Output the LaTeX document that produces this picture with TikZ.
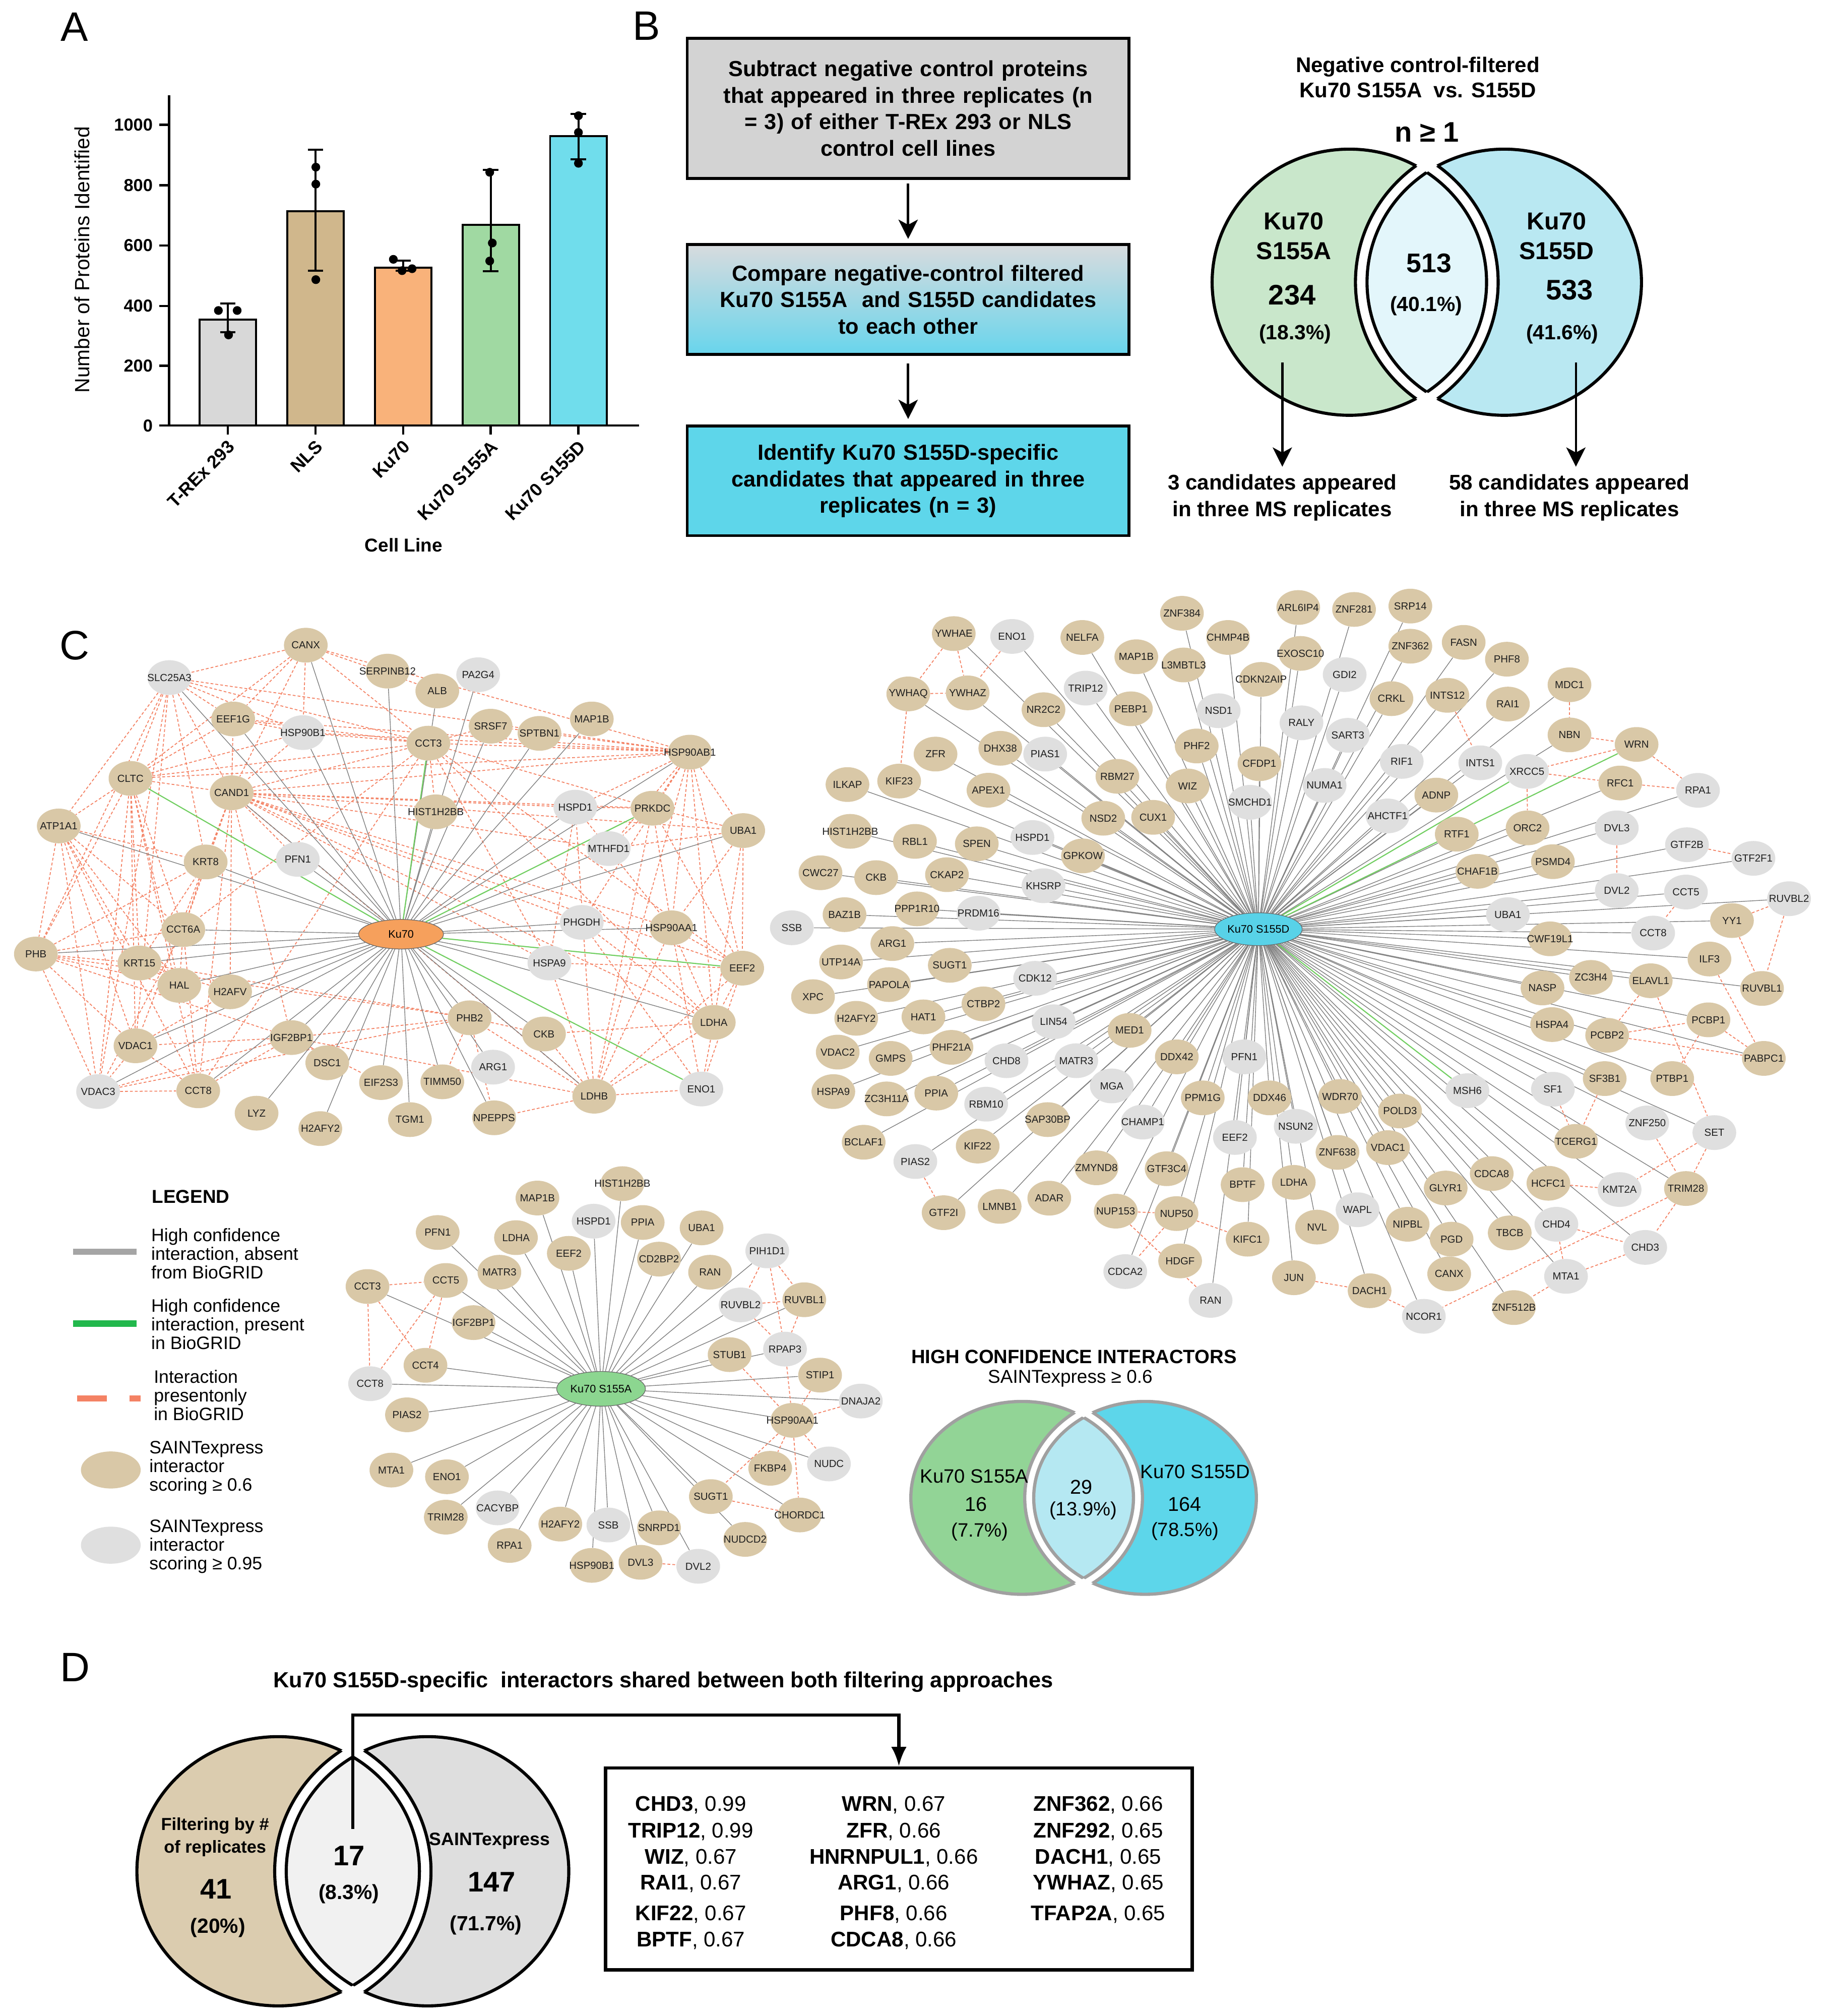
\documentclass[tikz,border=0pt]{standalone}
\usepackage{fontspec}
\setmainfont{Liberation Sans}
\usetikzlibrary{shapes.geometric,arrows.meta}
\pgfdeclarelayer{bgw}
\pgfdeclarelayer{edges}
\pgfsetlayers{bgw,edges,main}
\definecolor{tanN}{RGB}{217,200,167}
\definecolor{grayN}{RGB}{223,223,223}
\definecolor{coral}{RGB}{244,130,100}
\definecolor{edgeG}{RGB}{128,128,128}
\definecolor{greenE}{RGB}{112,206,96}
\definecolor{barGray}{RGB}{216,216,216}
\definecolor{barTan}{RGB}{208,183,140}
\definecolor{barOrange}{RGB}{249,178,122}
\definecolor{barGreen}{RGB}{160,217,162}
\definecolor{barCyan}{RGB}{112,221,236}
\definecolor{hubOrange}{RGB}{246,160,92}
\definecolor{hubCyan}{RGB}{88,210,232}
\definecolor{hubGreen}{RGB}{140,214,144}
\definecolor{boxGray}{RGB}{211,211,211}
\definecolor{boxTop}{RGB}{216,219,222}
\definecolor{boxBot}{RGB}{104,213,236}
\definecolor{boxCyan}{RGB}{94,214,234}
\definecolor{legGray}{RGB}{165,165,165}
\definecolor{legGreen}{RGB}{34,184,76}
\newcommand\fz[2]{\fontsize{#1}{#2}\selectfont}
\newcommand\knA[3]{\node[#1,label={center:#2}] (a#2) at (#3) {};}
\newcommand\knD[3]{\node[#1,label={center:#2}] (d#2) at (#3) {};}
\newcommand\knS[3]{\node[#1,label={center:#2}] (s#2) at (#3) {};}
\def\vgap{9}
\def\vlw{2.4pt}
\newcommand\VennPic[5]{%
\pgfmathsetmacro\vxl{#1-#3}%
\pgfmathsetmacro\vxr{#1+#3}%
\pgfmathsetmacro\vap{#4+\vgap}%
\pgfmathsetmacro\vbp{#5+\vgap}%
\fill[vL] (\vxl,#2) ellipse[x radius=#4pt,y radius=#5pt];%
\draw[vLine,line width=\vlw] (\vxl,#2) ellipse[x radius=#4pt,y radius=#5pt];%
\fill[vR] (\vxr,#2) ellipse[x radius=#4pt,y radius=#5pt];%
\draw[vLine,line width=\vlw] (\vxr,#2) ellipse[x radius=#4pt,y radius=#5pt];%
\begin{scope}\clip (\vxl,#2) ellipse[x radius=\vap pt,y radius=\vbp pt];%
\fill[white] (\vxr,#2) ellipse[x radius=\vap pt,y radius=\vbp pt];\end{scope}%
\begin{scope}\clip (\vxl,#2) ellipse[x radius=#4pt,y radius=#5pt];%
\draw[vLine,line width=\vlw] (\vxr,#2) ellipse[x radius=\vap pt,y radius=\vbp pt];\end{scope}%
\begin{scope}\clip (\vxr,#2) ellipse[x radius=#4pt,y radius=#5pt];%
\draw[vLine,line width=\vlw] (\vxl,#2) ellipse[x radius=\vap pt,y radius=\vbp pt];\end{scope}%
\begin{scope}\clip (\vxl,#2) ellipse[x radius=#4pt,y radius=#5pt];%
\fill[vM] (\vxr,#2) ellipse[x radius=#4pt,y radius=#5pt];%
\draw[vLine,line width=\vlw] (\vxr,#2) ellipse[x radius=#4pt,y radius=#5pt];\end{scope}%
\begin{scope}\clip (\vxr,#2) ellipse[x radius=#4pt,y radius=#5pt];%
\draw[vLine,line width=\vlw] (\vxl,#2) ellipse[x radius=#4pt,y radius=#5pt];\end{scope}%
}
\tikzset{
 tn/.style={ellipse, fill=tanN, minimum width=34pt, minimum height=27pt, inner sep=0pt},
 gn/.style={ellipse, fill=grayN, minimum width=34pt, minimum height=27pt, inner sep=0pt},
 every label/.style={font=\fz{8}{9}, inner sep=0pt, text=black!88},
 hc/.style={draw=edgeG, line width=0.55pt},
 hcg/.style={draw=greenE, line width=0.85pt},
 bgd/.style={draw=coral, line width=0.7pt, dash pattern=on 2.2pt off 1.6pt},
 hub/.style={ellipse, draw=black!60, line width=0.5pt, inner sep=0pt, font=\fz{8.5}{10}},
 fbox/.style={draw, line width=2.2pt, minimum width=343.8pt, text width=330pt, align=center, font=\bfseries\fz{17}{20.6}, inner sep=0pt},
 plabel/.style={font=\fz{32}{36}, inner sep=0pt},
 farrow/.style={line width=2pt, -{Stealth[length=15pt,width=15pt,inset=4pt]}},
 txt/.style={inner sep=0pt, align=center},
 legt/.style={inner sep=0pt, align=left, anchor=west, font=\fz{14}{14.5}},
 dit/.style={inner sep=0pt, font=\fz{16.5}{18}},
}
\begin{document}
\begin{tikzpicture}[x=1pt,y=-1pt]
\begin{pgfonlayer}{bgw}\fill[white] (0,0) rectangle (1421,1568);\end{pgfonlayer}
\useasboundingbox (0,0) rectangle (1421,1568);
% ---------------- Panel letters
\node[plabel] (lA) at (58,21) {A};
\node[plabel] (lB) at (503,20) {B};
\node[plabel] (lC) at (58,502) {C};
\node[plabel] (lD) at (58.5,1297) {D};
% ---------------- Panel A bar chart
\foreach \cx/\tp/\col in {177.2/248.6/barGray,245.4/164.4/barTan,313.6/208.2/barOrange,381.8/175/barGreen,450/106/barCyan}
  \draw[fill=\col, line width=1.5pt] (\cx-22,331) rectangle (\cx+22,\tp);
\foreach \cx/\lo/\hi in {177.2/258.5/236.2,245.4/210.5/116.4,313.6/210.5/202.6,381.8/211/132,450/124/88.7}{
  \draw[line width=1.5pt] (\cx,\lo) -- (\cx,\hi);
  \draw[line width=1.5pt] (\cx-6,\lo) -- (\cx+6,\lo);
  \draw[line width=1.5pt] (\cx-6,\hi) -- (\cx+6,\hi);}
\foreach \x/\y in {169.9/241.5,184.5/241.5,177.8/260.5,245.7/130,245.7/143.2,245.7/217.5,306/201.7,312.8/210.5,320.6/209,381/134,383/189,381/203,450/90,450/103,450/127}
  \fill (\x,\y) circle[radius=3.4pt];
\draw[line width=1.8pt] (131.6,74) -- (131.6,331);
\draw[line width=1.8pt] (123.8,331) -- (497,331);
\foreach \v/\y in {0/331,200/284.5,400/238,600/191,800/144,1000/97}{
  \draw[line width=1.8pt] (123.8,\y) -- (131.6,\y);
  \node[font=\bfseries\fz{13.5}{15}, anchor=east, inner sep=0pt] (yt\v) at (119,\y) {\v};}
\foreach \cx in {177.2,245.4,313.6,381.8,450}
  \draw[line width=1.8pt] (\cx,331) -- (\cx,338);
\foreach \cx/\t [count=\i] in {177.2/T-REx 293,245.4/NLS,313.6/Ku70,381.8/Ku70 S155A,450/Ku70 S155D}
  \node[rotate=45, anchor=east, inner sep=0pt, font=\bfseries\fz{14}{16}] (xl\i) at (\cx+3,345) {\t};
\node[font=\bfseries\fz{14.5}{16}, inner sep=0pt] (xtitle) at (314,424) {Cell Line};
\node[font=\fz{16}{18}, rotate=90, inner sep=0pt] (ytitle) at (63.7,202) {Number of Proteins Identified};
% ---------------- Panel B flow chart
\node[fbox, fill=boxGray, minimum height=109.2pt] (b1) at (706.5,84.3) {Subtract negative control proteins\\that appeared in three replicates (n\\= 3) of either T-REx 293 or NLS\\control cell lines};
\node[fbox, top color=boxTop, bottom color=boxBot, minimum height=85.5pt] (b2) at (706.5,233) {Compare negative-control filtered\\Ku70 S155A\ \ and S155D candidates\\to each other};
\node[fbox, fill=boxCyan, minimum height=85.2pt] (b3) at (706.5,374) {Identify Ku70 S155D-specific\\candidates that appeared in three\\replicates (n = 3)};
\draw[farrow, shorten <=2.7pt, shorten >=3.3pt] (b1.south) -- (b2.north);
\draw[farrow, shorten <=6pt, shorten >=4.4pt] (b2.south) -- (b3.north);
% ---------------- Panel B Venn
\colorlet{vL}{rgb,255:red,201;green,231;blue,203}
\colorlet{vR}{rgb,255:red,185;green,232;blue,242}
\colorlet{vM}{rgb,255:red,227;green,246;blue,251}
\colorlet{vLine}{black}
\def\vgap{9}\def\vlw{2.4pt}
\VennPic{1110}{219.5}{60.25}{106.75}{103.5}
\node[txt, font=\bfseries\fz{16.5}{19.8}] (vbT) at (1103,60.2) {Negative control-filtered\\Ku70 S155A\ \ vs. S155D};
\node[txt, font=\bfseries\fz{22}{24}] (vbN) at (1110,103) {n ≥ 1};
\node[txt, font=\bfseries\fz{19}{23.4}] (vbL1) at (1006.5,183.6) {Ku70\\S155A};
\node[txt, font=\bfseries\fz{22}{24}] (vbL2) at (1005.2,229.6) {234};
\node[txt, font=\bfseries\fz{16}{18}] (vbL3) at (1007.5,259.9) {(18.3\%)};
\node[txt, font=\bfseries\fz{21}{24}] (vbM1) at (1111.8,204.9) {513};
\node[txt, font=\bfseries\fz{16}{18}] (vbM2) at (1109.5,237.9) {(40.1\%)};
\node[txt, font=\bfseries\fz{19}{23.4}] (vbR1) at (1211,183.6) {Ku70\\S155D};
\node[txt, font=\bfseries\fz{22}{24}] (vbR2) at (1221,225.5) {533};
\node[txt, font=\bfseries\fz{16}{18}] (vbR3) at (1215.4,259.9) {(41.6\%)};
\node[txt, font=\bfseries\fz{16.5}{20.6}] (vbT1) at (997.6,387) {3 candidates appeared\\in three MS replicates};
\node[txt, font=\bfseries\fz{16.5}{20.6}] (vbT2) at (1221,387) {58 candidates appeared\\in three MS replicates};
\coordinate (vbA1) at (997.6,281.9);
\coordinate (vbA2) at (1226,281.9);
\draw[line width=1.8pt, -{Stealth[length=15pt,width=15pt,inset=4pt]}] (vbA1) -- (vbA1 |- 0,363);
\draw[line width=1.8pt, -{Stealth[length=15pt,width=15pt,inset=4pt]}] (vbA2) -- (vbA2 |- 0,363);
% ---------------- Ku70 network
\knA{tn}{CANX}{237.9,501.8}
\knA{gn}{SLC25A3}{131.8,527}
\knA{tn}{SERPINB12}{301.5,522}
\knA{gn}{PA2G4}{372,524.8}
\knA{tn}{ALB}{340.2,537.4}
\knA{tn}{EEF1G}{181.4,559.2}
\knA{gn}{HSP90B1}{235.6,569.8}
\knA{tn}{CCT3}{333.3,578}
\knA{tn}{SRSF7}{381.7,564.8}
\knA{tn}{SPTBN1}{419.7,570.4}
\knA{tn}{MAP1B}{460.4,559.2}
\knA{tn}{HSP90AB1}{536.7,585}
\knA{tn}{CLTC}{101.5,605.4}
\knA{tn}{CAND1}{180.2,616.6}
\knA{tn}{HIST1H2BB}{339,631.4}
\knA{gn}{HSPD1}{447.6,627.8}
\knA{tn}{PRKDC}{507.6,628.6}
\knA{tn}{UBA1}{578.2,646}
\knA{tn}{ATP1A1}{45.7,642.4}
\knA{gn}{MTHFD1}{473.5,660}
\knA{tn}{KRT8}{160,670.4}
\knA{gn}{PFN1}{231.7,668.4}
\knA{tn}{CCT6A}{142.6,723}
\knA{gn}{PHGDH}{452.6,717.4}
\knA{tn}{HSP90AA1}{522.4,721.6}
\knA{tn}{PHB}{27.9,742}
\knA{tn}{KRT15}{108.5,749}
\knA{gn}{HSPA9}{427.4,749}
\knA{tn}{EEF2}{577.4,753}
\knA{tn}{HAL}{139.5,766.4}
\knA{tn}{H2AFV}{179,771.4}
\knA{tn}{PHB2}{365.4,791.6}
\knA{tn}{LDHA}{555.3,795.2}
\knA{tn}{CKB}{423.2,804.2}
\knA{tn}{IGF2BP1}{226.7,807}
\knA{tn}{VDAC1}{105.4,813.4}
\knA{tn}{DSC1}{254.6,826.6}
\knA{gn}{ARG1}{383.6,830}
\knA{tn}{EIF2S3}{296.4,842}
\knA{tn}{TIMM50}{344.1,841.4}
\knA{gn}{VDAC3}{76.3,849}
\knA{tn}{CCT8}{154.2,848.4}
\knA{tn}{LDHB}{462.3,852.6}
\knA{gn}{ENO1}{545.6,847}
\knA{tn}{LYZ}{199.6,865.8}
\knA{tn}{H2AFY2}{249.2,877.8}
\knA{tn}{TGM1}{318.9,870.8}
\knA{tn}{NPEPPS}{384.4,869.4}
\node[hub, fill=hubOrange, minimum width=66pt, minimum height=23pt] (aKu70) at (312,726.6) {Ku70};
\begin{pgfonlayer}{edges}
\foreach \a/\b in {CANX/SLC25A3,CANX/EEF1G,CANX/CLTC,CANX/CAND1,CANX/HSP90B1,CANX/CCT3,CANX/HSP90AB1,CANX/ALB,
SLC25A3/CLTC,SLC25A3/ATP1A1,SLC25A3/CAND1,SLC25A3/EEF1G,SLC25A3/HSP90B1,SLC25A3/CCT3,SLC25A3/HSP90AB1,SLC25A3/KRT8,SLC25A3/VDAC1,SLC25A3/VDAC3,SLC25A3/PHB,
CLTC/ATP1A1,CLTC/CAND1,CLTC/CCT3,CLTC/HSP90AB1,CLTC/EEF1G,CLTC/HSP90B1,CLTC/CCT6A,CLTC/KRT15,CLTC/VDAC1,CLTC/VDAC3,CLTC/PHB,CLTC/HAL,CLTC/CCT8,
CAND1/HSPD1,CAND1/PRKDC,CAND1/MTHFD1,CAND1/HSP90AA1,CAND1/HSP90AB1,CAND1/EEF2,CAND1/LDHA,CAND1/LDHB,CAND1/UBA1,CAND1/PHGDH,CAND1/HSPA9,CAND1/CCT3,CAND1/KRT8,CAND1/CCT6A,CAND1/IGF2BP1,CAND1/H2AFV,CAND1/CCT8,CAND1/VDAC1,CAND1/EEF1G,CAND1/PFN1,
ATP1A1/PHB,ATP1A1/KRT8,ATP1A1/CCT6A,ATP1A1/KRT15,ATP1A1/VDAC1,ATP1A1/VDAC3,ATP1A1/HAL,ATP1A1/CCT8,
PHB/KRT15,PHB/VDAC1,PHB/VDAC3,PHB/CCT6A,PHB/PHB2,PHB/HAL,PHB/KRT8,PHB/IGF2BP1,
HSP90AB1/UBA1,HSP90AB1/EEF2,HSP90AB1/HSP90AA1,HSP90AB1/LDHA,HSP90AB1/PRKDC,HSP90AB1/HSPD1,HSP90AB1/MTHFD1,HSP90AB1/PHGDH,HSP90AB1/CCT3,HSP90AB1/LDHB,HSP90AB1/SRSF7,HSP90AB1/HSP90B1,HSP90AB1/EEF1G,
UBA1/EEF2,UBA1/HSP90AA1,UBA1/LDHA,UBA1/PRKDC,UBA1/MTHFD1,
EEF2/LDHA,EEF2/ENO1,EEF2/HSP90AA1,EEF2/LDHB,EEF2/PRKDC,EEF2/HSPA9,EEF2/CCT3,
LDHA/ENO1,LDHA/LDHB,LDHA/HSP90AA1,LDHA/CKB,LDHA/PHGDH,
LDHB/ENO1,LDHB/NPEPPS,LDHB/CKB,LDHB/HSPA9,LDHB/HSPD1,LDHB/HSP90AA1,LDHB/PHB2,
ENO1/HSP90AA1,ENO1/PHGDH,
IGF2BP1/VDAC1,IGF2BP1/VDAC3,IGF2BP1/CCT8,IGF2BP1/PHB2,IGF2BP1/EIF2S3,IGF2BP1/LDHB,
PHB2/VDAC3,PHB2/KRT15,PHB2/TIMM50,PHB2/NPEPPS,PHB2/CKB,
CCT6A/CCT8,CCT6A/VDAC3,CCT6A/KRT8,CCT6A/HAL,
VDAC1/VDAC3,VDAC1/H2AFV,VDAC1/CCT8,VDAC3/CCT8,KRT15/KRT8,KRT15/H2AFV,KRT15/HAL,
CCT3/SRSF7,CCT3/HSPA9,CCT3/PRKDC,CCT3/CCT6A,CCT3/CCT8,CCT3/LDHA,CCT3/HIST1H2BB,CCT3/HSP90B1,CCT3/EEF1G,
HSPD1/HSPA9,HSPD1/PRKDC,HSPD1/HSP90AA1,PRKDC/MTHFD1,PRKDC/LDHB,PRKDC/HSP90AA1,HSP90B1/EEF1G,HSP90B1/CAND1}
  \draw[bgd] (a\a) -- (a\b);
\foreach \n in {CANX,SLC25A3,SERPINB12,PA2G4,ALB,EEF1G,HSP90B1,SRSF7,SPTBN1,MAP1B,HSP90AB1,CAND1,HIST1H2BB,HSPD1,UBA1,ATP1A1,MTHFD1,KRT8,PFN1,CCT6A,PHGDH,HSP90AA1,PHB,KRT15,HSPA9,HAL,H2AFV,PHB2,LDHA,CKB,IGF2BP1,VDAC1,DSC1,ARG1,EIF2S3,TIMM50,VDAC3,CCT8,LDHB,LYZ,H2AFY2,TGM1,NPEPPS}
  \draw[hc] (aKu70) -- (a\n);
\foreach \n in {CLTC,CCT3,PRKDC,EEF2,ENO1}
  \draw[hcg] (aKu70) -- (a\n);
\end{pgfonlayer}
% ---------------- S155D network
\knD{tn}{YWHAE}{742,492.8}
\knD{gn}{ENO1}{787.4,495}
\knD{tn}{NELFA}{842,495.8}
\knD{tn}{ZNF384}{919.5,477}
\knD{tn}{ARL6IP4}{1010,472.5}
\knD{tn}{MAP1B}{884,510.8}
\knD{tn}{CHMP4B}{955.4,495.8}
\knD{tn}{L3MBTL3}{920.8,517.2}
\knD{tn}{EXOSC10}{1011.7,508.2}
\knD{tn}{CDKN2AIP}{981.1,528.4}
\knD{tn}{YWHAQ}{706.6,539.7}
\knD{tn}{YWHAZ}{752.8,538.9}
\knD{gn}{TRIP12}{844.6,535.2}
\knD{tn}{NR2C2}{811.8,552}
\knD{tn}{PEBP1}{879.8,551.3}
\knD{gn}{NSD1}{948.1,552.8}
\knD{gn}{RALY}{1012.5,562.2}
\knD{gn}{GDI2}{1046.1,524.7}
\knD{tn}{ZFR}{727.8,586.5}
\knD{tn}{DHX38}{778.2,582}
\knD{gn}{PIAS1}{813.1,586.5}
\knD{tn}{PHF2}{931,580.2}
\knD{tn}{CFDP1}{979.8,594}
\knD{tn}{ILKAP}{659.3,610.2}
\knD{tn}{KIF23}{699.5,607.5}
\knD{tn}{APEX1}{769,614.6}
\knD{tn}{RBM27}{869.3,603.8}
\knD{tn}{WIZ}{923.9,611.3}
\knD{gn}{SMCHD1}{972.5,624}
\knD{gn}{NUMA1}{1030.5,610.9}
\knD{gn}{SART3}{1048.6,571.9}
\knD{gn}{RIF1}{1090.5,592.2}
\knD{tn}{HIST1H2BB}{661.4,646.6}
\knD{tn}{RBL1}{711.8,654.4}
\knD{tn}{SPEN}{759.9,656.3}
\knD{gn}{HSPD1}{803.2,651.4}
\knD{tn}{NSD2}{858.3,636.4}
\knD{tn}{CUX1}{897.1,635.7}
\knD{tn}{GPKOW}{842.5,665.7}
\knD{tn}{CWC27}{638.3,678.8}
\knD{tn}{CKB}{681.6,682.6}
\knD{tn}{CKAP2}{736.7,680.3}
\knD{gn}{KHSRP}{811.8,688.9}
\knD{tn}{BAZ1B}{657,711.4}
\knD{tn}{PPP1R10}{713.4,706.9}
\knD{gn}{PRDM16}{761.2,710.3}
\knD{gn}{SSB}{616,721.6}
\knD{tn}{ARG1}{694.2,733.9}
\knD{tn}{UTP14A}{654.3,748.2}
\knD{tn}{SUGT1}{738.9,750.8}
\knD{gn}{CDK12}{805.3,760.9}
\knD{tn}{XPC}{632.5,775.2}
\knD{tn}{PAPOLA}{691.6,765.8}
\knD{tn}{CTBP2}{765.1,780.8}
\knD{tn}{H2AFY2}{666.1,792}
\knD{tn}{HAT1}{718.4,790.9}
\knD{gn}{LIN54}{819.7,794.7}
\knD{tn}{MED1}{878.8,801.4}
\knD{tn}{VDAC2}{651.7,818.3}
\knD{tn}{GMPS}{692.9,823.2}
\knD{tn}{PHF21A}{740.2,814.6}
\knD{gn}{CHD8}{783,825}
\knD{gn}{MATR3}{837.3,825}
\knD{tn}{DDX42}{915.5,822}
\knD{gn}{PFN1}{968,822}
\knD{tn}{HSPA9}{648.3,849}
\knD{tn}{ZC3H11A}{689.8,854.7}
\knD{tn}{PPIA}{728.4,850.2}
\knD{gn}{RBM10}{767.2,858.8}
\knD{gn}{MGA}{864.9,844.6}
\knD{tn}{PPM1G}{935.7,853.9}
\knD{tn}{DDX46}{987.7,853.9}
\knD{tn}{SAP30BP}{815,870.8}
\knD{gn}{CHAMP1}{889,872.7}
\knD{gn}{EEF2}{960.7,884.7}
\knD{gn}{NSUN2}{1008,876}
\knD{tn}{BCLAF1}{671.9,888.4}
\knD{tn}{KIF22}{760.6,891.4}
\knD{gn}{PIAS2}{712.1,903.4}
\knD{tn}{ZMYND8}{853,908.3}
\knD{tn}{GTF3C4}{907.6,909}
\knD{tn}{BPTF}{966.7,921.4}
\knD{tn}{LDHA}{1006.5,919.6}
\knD{tn}{GTF2I}{734.1,943.2}
\knD{tn}{LMNB1}{777.7,938.3}
\knD{tn}{ADAR}{816.3,931.9}
\knD{tn}{NUP153}{868,942}
\knD{tn}{NUP50}{915.3,943.9}
\knD{tn}{KIFC1}{970.6,963.8}
\knD{gn}{CDCA2}{875.4,989}
\knD{tn}{HDGF}{918.1,980.7}
\knD{gn}{RAN}{941.8,1011.4}
\knD{tn}{JUN}{1006.6,993.8}
\knD{tn}{ZNF281}{1053.4,474}
\knD{tn}{SRP14}{1097.2,471.4}
\knD{tn}{ZNF362}{1097.2,502.6}
\knD{tn}{FASN}{1138.7,499.6}
\knD{tn}{PHF8}{1172.3,512.7}
\knD{tn}{CRKL}{1082.5,543.4}
\knD{tn}{INTS12}{1126,540.8}
\knD{tn}{RAI1}{1173.1,547.6}
\knD{tn}{MDC1}{1221,532.6}
\knD{tn}{NBN}{1221,571.6}
\knD{tn}{WRN}{1273.2,579}
\knD{gn}{INTS1}{1151.6,593.3}
\knD{gn}{XRCC5}{1187.9,600}
\knD{tn}{ADNP}{1117.4,618.4}
\knD{gn}{AHCTF1}{1079.5,634.6}
\knD{tn}{RFC1}{1260.5,609}
\knD{gn}{RPA1}{1321,614.7}
\knD{tn}{RTF1}{1133.3,648.8}
\knD{tn}{ORC2}{1188.4,643.9}
\knD{gn}{DVL3}{1257.8,643.9}
\knD{tn}{CHAF1B}{1149.4,677.7}
\knD{tn}{PSMD4}{1208.1,670.2}
\knD{gn}{GTF2B}{1312.4,657}
\knD{gn}{GTF2F1}{1364.1,667.6}
\knD{gn}{DVL2}{1257.8,692.7}
\knD{gn}{CCT5}{1311.6,693.8}
\knD{gn}{RUVBL2}{1391.8,699}
\knD{gn}{UBA1}{1173.1,711.4}
\knD{tn}{CWF19L1}{1205.9,730.2}
\knD{gn}{CCT8}{1286.1,725.7}
\knD{tn}{YY1}{1347.4,716}
\knD{tn}{ILF3}{1329.9,745.9}
\knD{tn}{ZC3H4}{1237.7,760.2}
\knD{tn}{ELAVL1}{1284.2,762.8}
\knD{tn}{NASP}{1200,768.4}
\knD{tn}{RUVBL1}{1370.8,768.8}
\knD{tn}{HSPA4}{1207.5,796.9}
\knD{tn}{PCBP2}{1250.3,805.2}
\knD{tn}{PCBP1}{1329.1,793.2}
\knD{tn}{PABPC1}{1372.2,823.2}
\knD{tn}{SF3B1}{1248.4,838.9}
\knD{tn}{PTBP1}{1300.9,838.9}
\knD{gn}{MSH6}{1141.6,848.3}
\knD{gn}{SF1}{1208.1,847.2}
\knD{gn}{ZNF250}{1281.5,873.4}
\knD{gn}{SET}{1333.7,880.9}
\knD{tn}{WDR70}{1042.6,852.8}
\knD{tn}{POLD3}{1089.2,864.1}
\knD{tn}{TCERG1}{1226.1,887.7}
\knD{tn}{ZNF638}{1040.5,896.3}
\knD{tn}{VDAC1}{1079.8,892.6}
\knD{tn}{CDCA8}{1160.5,912.8}
\knD{tn}{HCFC1}{1204.6,920.3}
\knD{gn}{KMT2A}{1260,925.2}
\knD{tn}{TRIM28}{1311.6,924.4}
\knD{tn}{GLYR1}{1124.7,924}
\knD{gn}{WAPL}{1056.1,940.9}
\knD{tn}{NVL}{1024.6,954.4}
\knD{tn}{NIPBL}{1095.1,952.2}
\knD{tn}{PGD}{1129.3,963.8}
\knD{tn}{TBCB}{1174.5,958.9}
\knD{gn}{CHD4}{1210.8,952.2}
\knD{gn}{CHD3}{1279.9,970.2}
\knD{tn}{CANX}{1127.4,990.8}
\knD{gn}{MTA1}{1218.3,992.7}
\knD{tn}{DACH1}{1065.5,1003.9}
\knD{gn}{NCOR1}{1107.7,1023.8}
\knD{tn}{ZNF512B}{1177.7,1017}
\node[hub, fill=hubCyan, minimum width=67pt, minimum height=25.5pt] (dHub) at (979,722.7) {Ku70 S155D};
\begin{pgfonlayer}{edges}
\foreach \n in {YWHAE,ENO1,NELFA,ZNF384,ARL6IP4,MAP1B,CHMP4B,L3MBTL3,EXOSC10,CDKN2AIP,YWHAQ,YWHAZ,TRIP12,NR2C2,PEBP1,NSD1,RALY,GDI2,ZFR,DHX38,PIAS1,PHF2,CFDP1,ILKAP,KIF23,APEX1,RBM27,WIZ,SMCHD1,NUMA1,SART3,RIF1,HIST1H2BB,RBL1,SPEN,HSPD1,NSD2,CUX1,GPKOW,CWC27,CKB,CKAP2,KHSRP,BAZ1B,PPP1R10,PRDM16,SSB,ARG1,UTP14A,SUGT1,CDK12,XPC,PAPOLA,CTBP2,H2AFY2,HAT1,LIN54,MED1,VDAC2,GMPS,PHF21A,CHD8,MATR3,DDX42,PFN1,HSPA9,ZC3H11A,PPIA,RBM10,MGA,PPM1G,DDX46,SAP30BP,CHAMP1,EEF2,NSUN2,BCLAF1,KIF22,PIAS2,ZMYND8,GTF3C4,BPTF,LDHA,GTF2I,LMNB1,ADAR,NUP153,NUP50,KIFC1,CDCA2,HDGF,RAN,JUN,ZNF281,SRP14,ZNF362,FASN,PHF8,CRKL,INTS12,RAI1,MDC1,NBN,INTS1,ADNP,AHCTF1,RFC1,RPA1,RTF1,ORC2,DVL3,CHAF1B,PSMD4,GTF2B,GTF2F1,DVL2,CCT5,RUVBL2,UBA1,CWF19L1,CCT8,YY1,ILF3,ZC3H4,ELAVL1,NASP,RUVBL1,HSPA4,PCBP2,PCBP1,PABPC1,SF3B1,PTBP1,SF1,ZNF250,SET,WDR70,POLD3,TCERG1,ZNF638,VDAC1,CDCA8,HCFC1,KMT2A,TRIM28,GLYR1,WAPL,NVL,NIPBL,PGD,TBCB,CHD4,CHD3,CANX,MTA1,DACH1,NCOR1,ZNF512B}
  \draw[hc] (dHub) -- (d\n);
\foreach \n in {XRCC5,WRN,MSH6}
  \draw[hcg] (dHub) -- (d\n);
\foreach \a/\b in {YWHAE/YWHAQ,YWHAE/YWHAZ,YWHAQ/YWHAZ,ENO1/YWHAZ,YWHAQ/KIF23,PIAS2/GTF2I,NUP153/NUP50,NUP153/RAN,NUP50/CDCA2,NUP50/KIFC1,MDC1/NBN,NBN/WRN,WRN/XRCC5,WRN/RPA1,XRCC5/RFC1,RFC1/RPA1,XRCC5/ORC2,INTS12/INTS1,DVL3/DVL2,GTF2B/GTF2F1,CCT5/CCT8,YY1/RUVBL2,YY1/RUVBL1,RUVBL2/RUVBL1,ILF3/PABPC1,ELAVL1/PCBP2,PCBP2/PCBP1,PCBP2/PABPC1,PCBP1/PABPC1,PCBP1/PTBP1,ELAVL1/SET,SF3B1/TCERG1,SF1/TCERG1,SET/KMT2A,SET/TRIM28,ZNF250/TRIM28,HCFC1/KMT2A,TRIM28/CHD3,TRIM28/NCOR1,CHD4/CHD3,CHD4/MTA1,MTA1/CHD3,MTA1/ZNF512B,JUN/DACH1,DACH1/NCOR1}
  \draw[bgd] (d\a) -- (d\b);
\end{pgfonlayer}
% ---------------- Legend
\node[inner sep=0pt, anchor=west, font=\bfseries\fz{14.5}{16}] (lgT) at (118,930.9) {LEGEND};
\draw[line width=5pt, legGray] (56.9,973.6) -- (106.4,973.6);
\draw[line width=5pt, legGreen] (56.9,1029.4) -- (106.4,1029.4);
\draw[line width=5pt, coral] (59.9,1087.7) -- (83,1087.7);
\draw[line width=5pt, coral] (100.7,1087.7) -- (109.4,1087.7);
\node[ellipse, fill=tanN, minimum width=46.5pt, minimum height=28.8pt, inner sep=0pt] (lgE1) at (86.2,1143.3) {};
\node[ellipse, fill=grayN, minimum width=46.5pt, minimum height=28.8pt, inner sep=0pt] (lgE2) at (86.2,1201.8) {};
\node[legt] (lg1) at (117.5,975) {High confidence\\interaction, absent\\from BioGRID};
\node[legt] (lg2) at (117.5,1030) {High confidence\\interaction, present\\in BioGRID};
\node[legt] (lg3) at (119.5,1085.4) {Interaction\\presentonly\\in BioGRID};
\node[legt] (lg4) at (116,1141.8) {SAINTexpress\\interactor\\scoring ≥ 0.6};
\node[legt] (lg5) at (116,1203) {SAINTexpress\\interactor\\scoring ≥ 0.95};
% ---------------- S155A network
\knS{tn}{HIST1H2BB}{484.2,920.6}
\knS{tn}{MAP1B}{418.1,931.8}
\knS{gn}{HSPD1}{461.8,949.8}
\knS{tn}{PPIA}{500,950.8}
\knS{tn}{UBA1}{545.8,955}
\knS{tn}{PFN1}{340.5,958.6}
\knS{tn}{LDHA}{401.4,962.6}
\knS{tn}{EEF2}{442.5,974.8}
\knS{tn}{CD2BP2}{512.7,979.3}
\knS{gn}{PIH1D1}{596.9,972.9}
\knS{tn}{RAN}{552.4,989.5}
\knS{tn}{MATR3}{388.5,989.5}
\knS{tn}{CCT3}{285.9,1000.6}
\knS{tn}{CCT5}{346.8,995.9}
\knS{gn}{RUVBL2}{576.2,1014.9}
\knS{tn}{RUVBL1}{625.7,1010.9}
\knS{tn}{IGF2BP1}{368.4,1028.7}
\knS{tn}{STUB1}{567.6,1053.6}
\knS{gn}{RPAP3}{610.7,1049.3}
\knS{tn}{CCT4}{331,1061.9}
\knS{tn}{STIP1}{638,1069.5}
\knS{gn}{CCT8}{287.9,1076.2}
\knS{gn}{DNAJA2}{669.7,1089.7}
\knS{tn}{PIAS2}{316.6,1100.4}
\knS{tn}{HSP90AA1}{616.5,1104.7}
\knS{tn}{MTA1}{304.5,1143.4}
\knS{tn}{ENO1}{347.7,1148.6}
\knS{tn}{FKBP4}{599.2,1142}
\knS{gn}{NUDC}{644.9,1138.6}
\knS{tn}{SUGT1}{553,1164}
\knS{tn}{CHORDC1}{622.2,1178.3}
\knS{tn}{TRIM28}{346.8,1180}
\knS{gn}{CACYBP}{387.1,1172.8}
\knS{tn}{H2AFY2}{435.9,1185.4}
\knS{gn}{SSB}{473.3,1186.1}
\knS{tn}{SNRPD1}{512.7,1188.3}
\knS{tn}{NUDCD2}{579.7,1197.3}
\knS{tn}{RPA1}{396.5,1202}
\knS{tn}{HSP90B1}{460.4,1217.5}
\knS{tn}{DVL3}{498.3,1215.1}
\knS{gn}{DVL2}{543.2,1218.2}
\node[hub, fill=hubGreen, minimum width=69pt, minimum height=27pt] (sHub) at (467.6,1080.2) {Ku70 S155A};
\begin{pgfonlayer}{edges}
\foreach \n in {HIST1H2BB,MAP1B,HSPD1,PPIA,UBA1,PFN1,LDHA,EEF2,CD2BP2,PIH1D1,RAN,MATR3,CCT3,CCT5,RUVBL2,RUVBL1,IGF2BP1,STUB1,RPAP3,CCT4,STIP1,CCT8,DNAJA2,PIAS2,HSP90AA1,MTA1,ENO1,FKBP4,NUDC,SUGT1,CHORDC1,TRIM28,CACYBP,H2AFY2,SSB,SNRPD1,NUDCD2,RPA1,HSP90B1,DVL3,DVL2}
  \draw[hc] (sHub) -- (s\n);
\foreach \a/\b in {CCT3/CCT5,CCT3/CCT8,CCT3/CCT4,CCT5/CCT8,CCT5/CCT4,PIH1D1/RUVBL2,PIH1D1/RUVBL1,PIH1D1/RPAP3,RUVBL2/RUVBL1,RUVBL2/RPAP3,RUVBL1/RPAP3,RPAP3/HSP90AA1,STUB1/HSP90AA1,STIP1/HSP90AA1,DNAJA2/HSP90AA1,HSP90AA1/FKBP4,HSP90AA1/NUDC,HSP90AA1/CHORDC1,HSP90AA1/SUGT1,SUGT1/CHORDC1,DVL3/DVL2}
  \draw[bgd] (s\a) -- (s\b);
\end{pgfonlayer}
% ---------------- High confidence Venn
\colorlet{vL}{rgb,255:red,146;green,212;blue,150}
\colorlet{vR}{rgb,255:red,93;green,214;blue,234}
\colorlet{vM}{rgb,255:red,181;green,232;blue,242}
\colorlet{vLine}{rgb,255:red,160;green,160;blue,160}
\def\vgap{7}\def\vlw{2.5pt}
\VennPic{843}{1165}{47.8}{86.6}{75}
\node[txt, font=\bfseries\fz{15}{17}] (hcT) at (835.5,1055.3) {HIGH CONFIDENCE INTERACTORS};
\node[txt, font=\fz{14.5}{17}] (hcS) at (832.6,1072) {SAINTexpress ≥ 0.6};
\node[txt, font=\fz{15}{17}] (hcL1) at (757.9,1148.1) {Ku70 S155A};
\node[txt, font=\fz{15.5}{17}] (hcL2) at (759.3,1169.8) {16};
\node[txt, font=\fz{15}{17}] (hcL3) at (762.2,1191.6) {(7.7\%)};
\node[txt, font=\fz{15.5}{17}] (hcM1) at (841.3,1156.8) {29};
\node[txt, font=\fz{15}{17}] (hcM2) at (842.7,1174.9) {(13.9\%)};
\node[txt, font=\fz{15}{17}] (hcR1) at (929.8,1144.5) {Ku70 S155D};
\node[txt, font=\fz{15.5}{17}] (hcR2) at (921.8,1169.8) {164};
\node[txt, font=\fz{15}{17}] (hcR3) at (921.8,1190.9) {(78.5\%)};
% ---------------- Panel D
\node[txt, font=\bfseries\fz{17}{20}] (dTitle) at (516,1308) {Ku70 S155D-specific\ \ interactors shared between both filtering approaches};
\colorlet{vL}{rgb,255:red,219;green,204;blue,175}
\colorlet{vR}{rgb,255:red,222;green,222;blue,222}
\colorlet{vM}{rgb,255:red,241;green,241;blue,241}
\colorlet{vLine}{black}
\def\vgap{9}\def\vlw{2.4pt}
\VennPic{274.5}{1455.4}{58.1}{109.9}{104.7}
\node[txt, font=\bfseries\fz{13.5}{17.7}] (dL1) at (167.3,1428.8) {Filtering by \#\\of replicates};
\node[txt, font=\bfseries\fz{22}{24}] (dL2) at (168,1469.4) {41};
\node[txt, font=\bfseries\fz{16}{18}] (dL3) at (169.5,1499.3) {(20\%)};
\node[txt, font=\bfseries\fz{22}{24}] (dM1) at (271.5,1443.2) {17};
\node[txt, font=\bfseries\fz{16}{18}] (dM2) at (271.5,1473.2) {(8.3\%)};
\node[txt, font=\bfseries\fz{14}{16}] (dR1) at (381,1432) {SAINTexpress};
\node[txt, font=\bfseries\fz{22}{24}] (dR2) at (382.5,1463.8) {147};
\node[txt, font=\bfseries\fz{16}{18}] (dR3) at (378,1497.5) {(71.7\%)};
\node[draw, line width=2.6pt, minimum width=456.2pt, minimum height=157pt, inner sep=0pt] (dbox) at (699.3,1453.5) {};
\coordinate (dS) at (274.5,1422.7);
\coordinate (dK) at (274.5,1333.8);
\draw[line width=2.4pt, -{Latex[length=15pt,width=12pt]}] (dS) -- (dK) -| (dbox.north);
\foreach \t/\x/\y [count=\i] in {CHD3/537.5/1404,TRIP12/537.5/1424.5,WIZ/537.5/1445.1,RAI1/537.5/1465.1,KIF22/537.5/1489,BPTF/537.5/1509.2}
  \node[dit] (dc1\i) at (\x,\y) {\textbf{\t}, 0.\ifnum\i<3 99\else 67\fi};
\foreach \t/\x/\y/\v [count=\i] in {WRN/695.3/1404/67,ZFR/695.3/1424.5/66,HNRNPUL1/695.3/1445.1/66,ARG1/695.3/1465.1/66,PHF8/695.3/1489/66,CDCA8/695.3/1509.2/66}
  \node[dit] (dc2\i) at (\x,\y) {\textbf{\t}, 0.\v};
\foreach \t/\x/\y/\v [count=\i] in {ZNF362/854.4/1404/66,ZNF292/854.4/1424.5/65,DACH1/854.4/1445.1/65,YWHAZ/854.4/1465.1/65,TFAP2A/854.4/1489/65}
  \node[dit] (dc3\i) at (\x,\y) {\textbf{\t}, 0.\v};
\end{tikzpicture}
\end{document}
